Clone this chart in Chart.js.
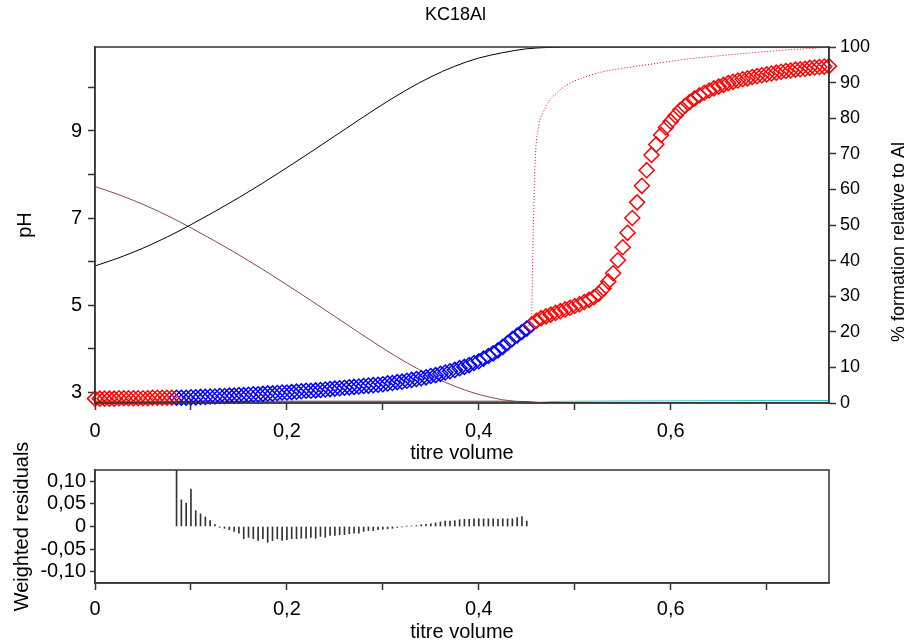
<!DOCTYPE html>
<html>
<head>
<meta charset="utf-8">
<title>KC18Al</title>
<script src="https://cdn.jsdelivr.net/npm/chart.js@4.4.1/dist/chart.umd.min.js"></script>
<style>
  body { margin: 0; background: #fff; }
  #wrap { position: relative; width: 911px; height: 644px; }
  #main { position: absolute; left: 0; top: 0; }
  #resid { position: absolute; left: 0; top: 420px; }
</style>
</head>
<body>
<div id="wrap">
  <canvas id="main" width="911" height="470"></canvas>
  <canvas id="resid" width="911" height="224"></canvas>
</div>
<script>
// Observed pH, points left out of the fit (start of titration)
var volExclA = [0, 0.005, 0.01, 0.015, 0.02, 0.025, 0.03, 0.035, 0.04, 0.045, 0.05, 0.055, 0.06, 0.065, 0.07, 0.075, 0.08];
var phExclA = [2.85, 2.85, 2.85, 2.85, 2.85, 2.86, 2.86, 2.86, 2.86, 2.86, 2.86, 2.86, 2.87, 2.87, 2.87, 2.87, 2.87];

// Observed pH, points used in the fit
var volFit = [0.085, 0.09, 0.095,
  0.1, 0.105, 0.11, 0.115, 0.12, 0.125, 0.13, 0.135, 0.14, 0.145, 0.15, 0.155, 0.16, 0.165, 0.17, 0.175, 0.18, 0.185, 0.19, 0.195,
  0.2, 0.205, 0.21, 0.215, 0.22, 0.225, 0.23, 0.235, 0.24, 0.245, 0.25, 0.255, 0.26, 0.265, 0.27, 0.275, 0.28, 0.285, 0.29, 0.295,
  0.3, 0.305, 0.31, 0.315, 0.32, 0.325, 0.33, 0.335, 0.34, 0.345, 0.35, 0.355, 0.36, 0.365, 0.37, 0.375, 0.38, 0.385, 0.39, 0.395,
  0.4, 0.405, 0.41, 0.415, 0.42, 0.425, 0.43, 0.435, 0.44, 0.445, 0.45];
var phFit = [2.87, 2.87, 2.87, 2.88, 2.88, 2.89, 2.89, 2.90, 2.90, 2.91,
  2.91, 2.92, 2.92, 2.93, 2.93, 2.94, 2.95, 2.95, 2.96, 2.97,
  2.97, 2.98, 2.99, 2.99, 3.00, 3.01, 3.02, 3.03, 3.03, 3.04,
  3.05, 3.06, 3.07, 3.08, 3.09, 3.10, 3.11, 3.12, 3.13, 3.14,
  3.15, 3.16, 3.17, 3.18, 3.20, 3.21, 3.23, 3.24, 3.26, 3.28,
  3.30, 3.32, 3.34, 3.37, 3.39, 3.42, 3.45, 3.48, 3.51, 3.55,
  3.58, 3.62, 3.67, 3.71, 3.77, 3.83, 3.89, 3.96, 4.04, 4.13,
  4.22, 4.30, 4.38, 4.46];
var residuals = [0.13, 0.059, 0.052, 0.083, 0.035, 0.028, 0.021, 0.013, 0.004, -0.002,
  -0.004, -0.007, -0.011, -0.015, -0.027, -0.024, -0.027, -0.031, -0.027, -0.035,
  -0.031, -0.027, -0.031, -0.029, -0.027, -0.027, -0.026, -0.026, -0.024, -0.026,
  -0.022, -0.024, -0.020, -0.020, -0.018, -0.018, -0.016, -0.015, -0.015,
  -0.011, -0.009, -0.009, -0.007, -0.006, -0.005, -0.004, -0.002, -0.001, 0.0005,
  0.001, 0.002, 0.004, 0.005, 0.006, 0.008, 0.010, 0.012, 0.012, 0.013,
  0.015, 0.016, 0.016, 0.017, 0.017, 0.017, 0.017, 0.017, 0.016, 0.017,
  0.017, 0.017, 0.020, 0.022, 0.012];

// Observed pH, points left out of the fit (after the end point)
var volExclB = [0.455, 0.46, 0.465, 0.47, 0.475, 0.48, 0.485, 0.49, 0.495,
  0.5, 0.505, 0.51, 0.515, 0.52, 0.525, 0.53, 0.535, 0.54, 0.545, 0.55, 0.555, 0.56, 0.565, 0.57, 0.575, 0.58, 0.585, 0.59, 0.595,
  0.6, 0.605, 0.61, 0.615, 0.62, 0.625, 0.63, 0.635, 0.64, 0.645, 0.65, 0.655, 0.66, 0.665, 0.67, 0.675, 0.68, 0.685, 0.69, 0.695,
  0.7, 0.705, 0.71, 0.715, 0.72, 0.725, 0.73, 0.735, 0.74, 0.745, 0.75, 0.755, 0.76, 0.765];
var phExclB = [4.55, 4.64, 4.70, 4.74, 4.78, 4.82, 4.86, 4.90, 4.94,
  4.98, 5.02, 5.07, 5.12, 5.18, 5.26, 5.38, 5.54, 5.73, 6.03,
  6.33, 6.66, 7.00, 7.36, 7.74, 8.10, 8.45, 8.69, 8.91, 9.08,
  9.22, 9.35, 9.48, 9.58, 9.67, 9.75, 9.82, 9.88, 9.93, 9.98,
  10.02, 10.06, 10.10, 10.13, 10.16, 10.19, 10.21, 10.24, 10.26, 10.28,
  10.30, 10.32, 10.34, 10.36, 10.38, 10.39, 10.41, 10.42, 10.43, 10.45,
  10.46, 10.47, 10.48, 10.49];

// Calculated pH curve
var calcVol = [0, 0.05, 0.1, 0.15, 0.2, 0.25, 0.3, 0.35, 0.375, 0.4, 0.42, 0.44, 0.45, 0.4549, 0.4566, 0.4583, 0.4601,
  0.4618, 0.4635, 0.467, 0.4705, 0.474, 0.481, 0.4844, 0.498, 0.512, 0.529, 0.547, 0.581, 0.616, 0.651, 0.686, 0.72, 0.755, 0.765];
var calcPH = [2.84, 2.86, 2.88, 2.92, 2.98, 3.06, 3.16, 3.34, 3.47, 3.66, 3.92, 4.27, 4.50, 4.73, 6.49, 8.03, 8.79,
  9.02, 9.24, 9.42, 9.58, 9.71, 9.87, 9.94, 10.13, 10.25, 10.36, 10.43, 10.54, 10.65, 10.73, 10.80, 10.86, 10.91, 10.93];

// % formation relative to Al
var speciesVol = [0, 0.025, 0.05, 0.075, 0.1, 0.125, 0.15, 0.175, 0.2, 0.225, 0.25, 0.275, 0.3, 0.325, 0.35, 0.375,
  0.4, 0.425, 0.45, 0.475, 0.5, 0.6, 0.7, 0.765];
var speciesA = [38.5, 40.8, 43.5, 46.6, 50.1, 53.8, 57.7, 61.8, 66.1, 70.5, 75.0, 79.5, 83.9, 88.0, 91.6, 94.6,
  96.9, 98.4, 99.5, 99.9, 100, 100, 100, 100];
var speciesB = [60.8, 58.5, 55.8, 52.7, 49.2, 45.5, 41.6, 37.5, 33.2, 28.8, 24.3, 19.8, 15.4, 11.3, 7.7, 4.7,
  2.4, 0.9, 0.2, 0, 0, 0, 0, 0];
var speciesC = [0.5, 0.5, 0.5, 0.5, 0.5, 0.5, 0.5, 0.5, 0.5, 0.5, 0.5, 0.5, 0.5, 0.5, 0.5, 0.5,
  0.5, 0.5, 0.4, 0, 0, 0, 0, 0];
var speciesD = [0, 0, 0, 0, 0, 0, 0, 0, 0, 0, 0, 0, 0, 0, 0, 0,
  0, 0, 0, 0.4, 0.5, 0.6, 0.7, 0.7];

// Tick positions and labels
var volTicks = [0, 0.1, 0.2, 0.3, 0.4, 0.5, 0.6, 0.7];
var volTickLabels = ['0', '', '0,2', '', '0,4', '', '0,6', ''];
var phTicks = [3, 4, 5, 6, 7, 8, 9, 10];
var phTickLabels = ['3', '', '5', '', '7', '', '9', ''];
var pctTicks = [0, 10, 20, 30, 40, 50, 60, 70, 80, 90, 100];
var resTicks = [-0.1, -0.05, 0, 0.05, 0.1];
var resTickLabels = ['-0,10', '-0,05', '0', '0,05', '0,10'];

var FONT = "'Liberation Sans', Arial, sans-serif";
Chart.defaults.font.family = FONT;
Chart.defaults.color = '#000';

function pts(xs, ys) {
    return xs.map(function(x, i) { return {x: x, y: ys[i]}; });
}

function fixTicks(values) {
    return function(scale) {
        scale.ticks = values.map(function(v) { return {value: v}; });
    };
}

// box round the plot area
var boxPlugin = {
    id: 'box',
    afterDraw: function(chart) {
        var a = chart.chartArea, ctx = chart.ctx;
        ctx.save();
        ctx.strokeStyle = '#333';
        ctx.lineWidth = 1.5;
        ctx.strokeRect(a.left, a.top, a.right - a.left, a.bottom - a.top);
        ctx.restore();
    }
};

// right axis title reads bottom to top, like the left one
var rightTitlePlugin = {
    id: 'rightTitle',
    afterDraw: function(chart) {
        var s = chart.scales.y1, ctx = chart.ctx;
        ctx.save();
        ctx.translate(s.right - 12, (chart.chartArea.top + chart.chartArea.bottom) / 2 + 17);
        ctx.rotate(-Math.PI / 2);
        ctx.font = '18px ' + FONT;
        ctx.fillStyle = '#000';
        ctx.textAlign = 'center';
        ctx.textBaseline = 'middle';
        ctx.fillText('% formation relative to Al', 0, 0);
        ctx.restore();
    }
};

var edge = {display: true, color: '#333', width: 1.5};
var tickGrid = {display: true, drawOnChartArea: false, tickLength: 7, tickColor: '#333', tickWidth: 1.5};

function diamonds(xs, ys, colour) {
    return {
        data: pts(xs, ys), yAxisID: 'y', pointStyle: 'rectRot', pointRadius: 7.5,
        borderColor: colour, backgroundColor: 'rgba(0,0,0,0)', pointBorderWidth: 1.5,
        showLine: false, clip: false, order: 1
    };
}

function species(ys, colour) {
    return {
        data: pts(speciesVol, ys), yAxisID: 'y1', showLine: true, pointRadius: 0,
        borderColor: colour, borderWidth: 1, cubicInterpolationMode: 'monotone', order: 3
    };
}

new Chart(document.getElementById('main'), {
    type: 'scatter',
    data: {
        datasets: [
            diamonds(volExclA, phExclA, '#ff0000'),
            diamonds(volFit, phFit, '#0000ff'),
            diamonds(volExclB, phExclB, '#ff0000'),
            {
                data: pts(calcVol, calcPH), yAxisID: 'y', showLine: true, pointRadius: 0,
                borderColor: '#ff0000', borderWidth: 1, borderDash: [1, 2],
                cubicInterpolationMode: 'monotone', order: 2
            },
            species(speciesA, '#000000'),
            species(speciesB, '#8c4a44'),
            species(speciesC, '#8b1a1a'),
            species(speciesD, '#33cccc')
        ]
    },
    plugins: [boxPlugin, rightTitlePlugin],
    options: {
        responsive: false,
        animation: false,
        layout: {padding: 0},
        plugins: {
            legend: {display: false},
            tooltip: {enabled: false},
            title: {
                display: true, text: 'KC18Al', color: '#000',
                font: {size: 18, weight: 'normal'}, padding: {top: 4, bottom: 21.4}
            }
        },
        scales: {
            x: {
                type: 'linear', position: 'bottom', min: 0, max: 0.765,
                afterBuildTicks: fixTicks(volTicks),
                afterFit: function(s) { s.height = 67; },
                ticks: {
                    autoSkip: false, maxRotation: 0, padding: 9, font: {size: 20},
                    callback: function(v, i) { return volTickLabels[i]; }
                },
                grid: tickGrid, border: edge,
                title: {display: true, text: 'titre volume', font: {size: 20}, padding: {top: 0, bottom: 5}}
            },
            y: {
                type: 'linear', position: 'left', min: 2.75, max: 10.93,
                afterBuildTicks: fixTicks(phTicks),
                afterFit: function(s) { s.width = 95; },
                ticks: {
                    autoSkip: false, padding: 6, font: {size: 20},
                    callback: function(v, i) { return phTickLabels[i]; }
                },
                grid: tickGrid, border: edge,
                title: {display: true, text: 'pH', font: {size: 20}, padding: {top: 13, bottom: 0}}
            },
            y1: {
                type: 'linear', position: 'right', min: 0, max: 100,
                afterBuildTicks: fixTicks(pctTicks),
                afterFit: function(s) { s.width = 82; },
                ticks: {autoSkip: false, padding: 4, font: {size: 18}},
                grid: tickGrid, border: edge
            }
        }
    }
});

new Chart(document.getElementById('resid'), {
    type: 'bar',
    data: {
        datasets: [{
            data: pts(volFit, residuals), backgroundColor: '#333', borderWidth: 0, barThickness: 1
        }]
    },
    plugins: [boxPlugin],
    options: {
        responsive: false,
        animation: false,
        layout: {padding: {top: 50, right: 82, left: 0, bottom: 0}},
        plugins: {legend: {display: false}, tooltip: {enabled: false}},
        scales: {
            x: {
                type: 'linear', position: 'bottom', min: 0, max: 0.765, offset: false,
                afterBuildTicks: fixTicks(volTicks),
                afterFit: function(s) { s.height = 61; },
                ticks: {
                    autoSkip: false, maxRotation: 0, padding: 7, font: {size: 20},
                    callback: function(v, i) { return volTickLabels[i]; }
                },
                grid: {display: true, drawOnChartArea: false, offset: false, tickLength: 7, tickColor: '#333', tickWidth: 1.5},
                border: edge,
                title: {display: true, text: 'titre volume', font: {size: 20}, padding: {top: 0, bottom: 0}}
            },
            y: {
                type: 'linear', position: 'left', min: -0.125, max: 0.125,
                afterBuildTicks: fixTicks(resTicks),
                afterFit: function(s) { s.width = 95; s.paddingTop = 0; s.paddingBottom = 0; },
                ticks: {
                    autoSkip: false, padding: 4, font: {size: 20},
                    callback: function(v, i) { return resTickLabels[i]; }
                },
                grid: {display: true, drawOnChartArea: false, tickLength: 5, tickColor: '#333', tickWidth: 1.5},
                border: edge,
                title: {display: true, text: 'Weighted residuals', font: {size: 20}, padding: {top: 10, bottom: 0}}
            }
        }
    }
});
</script>
</body>
</html>
